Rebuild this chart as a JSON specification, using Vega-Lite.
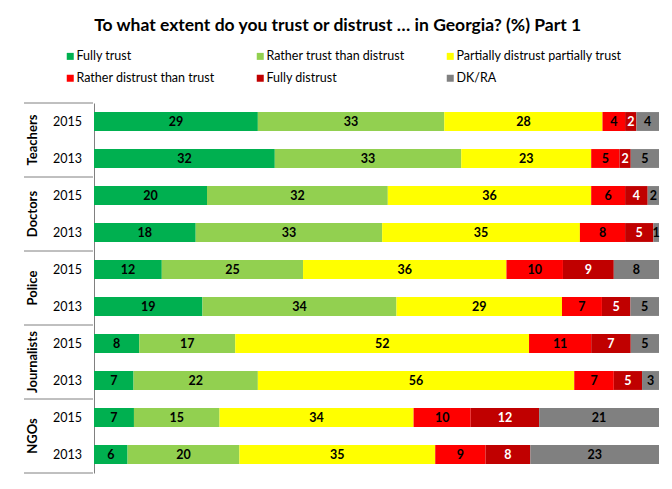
{
  "$schema": "https://vega.github.io/schema/vega-lite/v6.json",
  "description": "Trust in institutions in Georgia, 2013 vs 2015, part 1",
  "background": "#ffffff",
  "padding": {"left": 23, "top": 16, "right": 14, "bottom": 14},
  "title": {
    "text": "To what extent do you trust or distrust … in Georgia? (%) Part 1",
    "font": "Lato",
    "fontSize": 17.5,
    "fontWeight": "bold",
    "color": "#000000",
    "anchor": "middle",
    "dx": -4,
    "offset": 16
  },
  "data": {
    "values": [
      {"group": "Teachers", "year": "2015", "answer": "Fully trust", "value": 29},
      {"group": "Teachers", "year": "2015", "answer": "Rather trust than distrust", "value": 33},
      {"group": "Teachers", "year": "2015", "answer": "Partially distrust partially trust", "value": 28},
      {"group": "Teachers", "year": "2015", "answer": "Rather distrust than trust", "value": 4},
      {"group": "Teachers", "year": "2015", "answer": "Fully distrust", "value": 2},
      {"group": "Teachers", "year": "2015", "answer": "DK/RA", "value": 4},
      {"group": "Teachers", "year": "2013", "answer": "Fully trust", "value": 32},
      {"group": "Teachers", "year": "2013", "answer": "Rather trust than distrust", "value": 33},
      {"group": "Teachers", "year": "2013", "answer": "Partially distrust partially trust", "value": 23},
      {"group": "Teachers", "year": "2013", "answer": "Rather distrust than trust", "value": 5},
      {"group": "Teachers", "year": "2013", "answer": "Fully distrust", "value": 2},
      {"group": "Teachers", "year": "2013", "answer": "DK/RA", "value": 5},
      {"group": "Doctors", "year": "2015", "answer": "Fully trust", "value": 20},
      {"group": "Doctors", "year": "2015", "answer": "Rather trust than distrust", "value": 32},
      {"group": "Doctors", "year": "2015", "answer": "Partially distrust partially trust", "value": 36},
      {"group": "Doctors", "year": "2015", "answer": "Rather distrust than trust", "value": 6},
      {"group": "Doctors", "year": "2015", "answer": "Fully distrust", "value": 4},
      {"group": "Doctors", "year": "2015", "answer": "DK/RA", "value": 2},
      {"group": "Doctors", "year": "2013", "answer": "Fully trust", "value": 18},
      {"group": "Doctors", "year": "2013", "answer": "Rather trust than distrust", "value": 33},
      {"group": "Doctors", "year": "2013", "answer": "Partially distrust partially trust", "value": 35},
      {"group": "Doctors", "year": "2013", "answer": "Rather distrust than trust", "value": 8},
      {"group": "Doctors", "year": "2013", "answer": "Fully distrust", "value": 5},
      {"group": "Doctors", "year": "2013", "answer": "DK/RA", "value": 1},
      {"group": "Police", "year": "2015", "answer": "Fully trust", "value": 12},
      {"group": "Police", "year": "2015", "answer": "Rather trust than distrust", "value": 25},
      {"group": "Police", "year": "2015", "answer": "Partially distrust partially trust", "value": 36},
      {"group": "Police", "year": "2015", "answer": "Rather distrust than trust", "value": 10},
      {"group": "Police", "year": "2015", "answer": "Fully distrust", "value": 9},
      {"group": "Police", "year": "2015", "answer": "DK/RA", "value": 8},
      {"group": "Police", "year": "2013", "answer": "Fully trust", "value": 19},
      {"group": "Police", "year": "2013", "answer": "Rather trust than distrust", "value": 34},
      {"group": "Police", "year": "2013", "answer": "Partially distrust partially trust", "value": 29},
      {"group": "Police", "year": "2013", "answer": "Rather distrust than trust", "value": 7},
      {"group": "Police", "year": "2013", "answer": "Fully distrust", "value": 5},
      {"group": "Police", "year": "2013", "answer": "DK/RA", "value": 5},
      {"group": "Journalists", "year": "2015", "answer": "Fully trust", "value": 8},
      {"group": "Journalists", "year": "2015", "answer": "Rather trust than distrust", "value": 17},
      {"group": "Journalists", "year": "2015", "answer": "Partially distrust partially trust", "value": 52},
      {"group": "Journalists", "year": "2015", "answer": "Rather distrust than trust", "value": 11},
      {"group": "Journalists", "year": "2015", "answer": "Fully distrust", "value": 7},
      {"group": "Journalists", "year": "2015", "answer": "DK/RA", "value": 5},
      {"group": "Journalists", "year": "2013", "answer": "Fully trust", "value": 7},
      {"group": "Journalists", "year": "2013", "answer": "Rather trust than distrust", "value": 22},
      {"group": "Journalists", "year": "2013", "answer": "Partially distrust partially trust", "value": 56},
      {"group": "Journalists", "year": "2013", "answer": "Rather distrust than trust", "value": 7},
      {"group": "Journalists", "year": "2013", "answer": "Fully distrust", "value": 5},
      {"group": "Journalists", "year": "2013", "answer": "DK/RA", "value": 3},
      {"group": "NGOs", "year": "2015", "answer": "Fully trust", "value": 7},
      {"group": "NGOs", "year": "2015", "answer": "Rather trust than distrust", "value": 15},
      {"group": "NGOs", "year": "2015", "answer": "Partially distrust partially trust", "value": 34},
      {"group": "NGOs", "year": "2015", "answer": "Rather distrust than trust", "value": 10},
      {"group": "NGOs", "year": "2015", "answer": "Fully distrust", "value": 12},
      {"group": "NGOs", "year": "2015", "answer": "DK/RA", "value": 21},
      {"group": "NGOs", "year": "2013", "answer": "Fully trust", "value": 6},
      {"group": "NGOs", "year": "2013", "answer": "Rather trust than distrust", "value": 20},
      {"group": "NGOs", "year": "2013", "answer": "Partially distrust partially trust", "value": 35},
      {"group": "NGOs", "year": "2013", "answer": "Rather distrust than trust", "value": 9},
      {"group": "NGOs", "year": "2013", "answer": "Fully distrust", "value": 8},
      {"group": "NGOs", "year": "2013", "answer": "DK/RA", "value": 23}
    ]
  },
  "transform": [
    {"calculate": "datum.group + ' ' + datum.year", "as": "key"}
  ],
  "spacing": 0,
  "hconcat": [
    {
      "width": 69,
      "height": 370,
      "layer": [
        {
          "transform": [{"filter": "datum.answer === 'Fully trust' && datum.year === '2015'"}],
          "mark": {"type": "rule", "color": "#808080", "strokeWidth": 1},
          "encoding": {
            "y": {
              "field": "key", "type": "nominal", "bandPosition": 0,
              "scale": {"domain": ["Teachers 2015", "Teachers 2013", "Doctors 2015", "Doctors 2013", "Police 2015", "Police 2013", "Journalists 2015", "Journalists 2013", "NGOs 2015", "NGOs 2013"], "paddingInner": 0, "paddingOuter": 0},
              "axis": null
            }
          }
        },
        {
          "transform": [{"filter": "datum.answer === 'Fully trust' && datum.key === 'NGOs 2013'"}],
          "mark": {"type": "rule", "color": "#808080", "strokeWidth": 1},
          "encoding": {
            "y": {
              "field": "key", "type": "nominal", "bandPosition": 1,
              "scale": {"domain": ["Teachers 2015", "Teachers 2013", "Doctors 2015", "Doctors 2013", "Police 2015", "Police 2013", "Journalists 2015", "Journalists 2013", "NGOs 2015", "NGOs 2013"], "paddingInner": 0, "paddingOuter": 0},
              "axis": null
            }
          }
        },
        {
          "transform": [{"filter": "datum.answer === 'Fully trust' && datum.year === '2015'"}],
          "mark": {"type": "text", "angle": 270, "font": "Lato", "fontSize": 13, "fontWeight": "bold", "color": "#000000"},
          "encoding": {
            "y": {
              "field": "key", "type": "nominal", "bandPosition": 1,
              "scale": {"domain": ["Teachers 2015", "Teachers 2013", "Doctors 2015", "Doctors 2013", "Police 2015", "Police 2013", "Journalists 2015", "Journalists 2013", "NGOs 2015", "NGOs 2013"], "paddingInner": 0, "paddingOuter": 0},
              "axis": null
            },
            "x": {
              "datum": "group", "type": "nominal",
              "scale": {"type": "point", "domain": ["group", "year"], "padding": 0.5, "align": 0.26},
              "axis": null
            },
            "text": {"field": "group"}
          }
        },
        {
          "transform": [{"filter": "datum.answer === 'Fully trust'"}],
          "mark": {"type": "text", "font": "Lato", "fontSize": 12.5, "color": "#000000"},
          "encoding": {
            "y": {
              "field": "key", "type": "nominal",
              "scale": {"domain": ["Teachers 2015", "Teachers 2013", "Doctors 2015", "Doctors 2013", "Police 2015", "Police 2013", "Journalists 2015", "Journalists 2013", "NGOs 2015", "NGOs 2013"], "paddingInner": 0, "paddingOuter": 0},
              "axis": null
            },
            "x": {
              "datum": "year", "type": "nominal",
              "scale": {"type": "point", "domain": ["group", "year"], "padding": 0.5, "align": 0.26},
              "axis": null
            },
            "text": {"field": "year"}
          }
        }
      ]
    },
    {
      "width": 565,
      "height": 370,
      "transform": [
        {"calculate": "indexof(['Fully trust', 'Rather trust than distrust', 'Partially distrust partially trust', 'Rather distrust than trust', 'Fully distrust', 'DK/RA'], datum.answer)", "as": "ord"},
        {"stack": "value", "groupby": ["key"], "sort": [{"field": "ord", "order": "ascending"}], "offset": "normalize", "as": ["v0", "v1"]},
        {"calculate": "(datum.v0 + datum.v1) / 2", "as": "mid"}
      ],
      "encoding": {
        "y": {
          "field": "key", "type": "nominal",
          "scale": {"domain": ["Teachers 2015", "Teachers 2013", "Doctors 2015", "Doctors 2013", "Police 2015", "Police 2013", "Journalists 2015", "Journalists 2013", "NGOs 2015", "NGOs 2013"], "paddingInner": 0, "paddingOuter": 0},
          "axis": {"title": null, "labels": false, "ticks": false, "domainColor": "#808080", "domainWidth": 1}
        }
      },
      "layer": [
        {
          "mark": {"type": "bar", "height": {"band": 0.51}},
          "encoding": {
            "x": {"field": "v0", "type": "quantitative", "scale": {"domain": [0, 1], "nice": false}, "axis": null},
            "x2": {"field": "v1"},
            "color": {
              "field": "answer", "type": "nominal",
              "scale": {
                "domain": ["Fully trust", "Rather trust than distrust", "Partially distrust partially trust", "Rather distrust than trust", "Fully distrust", "DK/RA"],
                "range": ["#00B050", "#92D050", "#FFFF00", "#FF0000", "#C00000", "#808080"]
              },
              "legend": {
                "orient": "none",
                "legendX": 40,
                "legendY": -53,
                "direction": "horizontal",
                "columns": 3,
                "gridAlign": "all",
                "columnPadding": 12,
                "rowPadding": 9,
                "title": null,
                "symbolType": "square",
                "symbolSize": 49,
                "symbolStrokeWidth": 0,
                "labelFont": "Lato",
                "labelFontSize": 12.5,
                "labelColor": "#000000",
                "labelOffset": 0,
                "labelLimit": 300
              }
            }
          }
        },
        {
          "mark": {"type": "text", "font": "Lato", "fontSize": 12.5, "fontWeight": "bold"},
          "encoding": {
            "x": {"field": "mid", "type": "quantitative"},
            "text": {"field": "value", "type": "quantitative"},
            "color": {
              "condition": {"test": "datum.answer === 'Fully distrust'", "value": "#ffffff"},
              "value": "#000000"
            }
          }
        }
      ]
    }
  ],
  "config": {
    "view": {"stroke": null},
    "font": "Lato"
  }
}
